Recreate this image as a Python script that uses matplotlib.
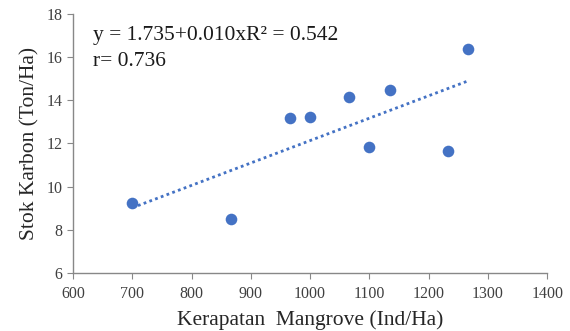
import numpy as np
import matplotlib
matplotlib.use("Agg")
import matplotlib.pyplot as plt

density = [700, 866, 966, 1000, 1066, 1100, 1134, 1233, 1266]
carbon = [9.23, 8.49, 13.17, 13.21, 14.17, 11.85, 14.48, 11.67, 16.37]
x_ticks = [600, 700, 800, 900, 1000, 1100, 1200, 1300, 1400]
y_ticks = [6, 8, 10, 12, 14, 16, 18]
equation_text = "y = 1.735+0.010xR\u00b2 = 0.542\nr= 0.736"

plt.rcParams['font.family'] = ['Liberation Serif', 'DejaVu Serif']

fig = plt.figure(figsize=(5.7, 3.31), dpi=100)
ax = fig.add_axes([0.128, 0.175, 0.832, 0.783])

color = '#4472C4'
ax.scatter(density, carbon, s=70, color=color, zorder=3, linewidths=0)

coef = np.polyfit(density, carbon, 1)
xs = np.array([min(density), max(density)])
ax.plot(xs, np.polyval(coef, xs), linestyle=(0, (1, 1.2)), color=color, linewidth=2.0, zorder=2)

ax.set_xlim(600, 1400)
ax.set_ylim(6, 18)
ax.set_xticks(x_ticks)
ax.set_yticks(y_ticks)

for side in ['top', 'right']:
    ax.spines[side].set_visible(False)
for side in ['left', 'bottom']:
    ax.spines[side].set_color('#888888')
    ax.spines[side].set_linewidth(1.0)
ax.tick_params(axis='both', direction='out', length=4, color='#888888', labelsize=11.5, labelcolor='#404040')
ax.tick_params(axis='x', pad=5.5)

ax.set_xlabel('Kerapatan  Mangrove (Ind/Ha)', fontsize=15.5, color='#262626', labelpad=5.5)
ax.set_ylabel('Stok Karbon (Ton/Ha)', fontsize=15.5, color='#262626', labelpad=5)

ax.text(0.042, 0.955, equation_text, transform=ax.transAxes, fontsize=15.5,
        va='top', ha='left', color='#1a1a1a', linespacing=1.5)

fig.savefig('out.png', dpi=100)
